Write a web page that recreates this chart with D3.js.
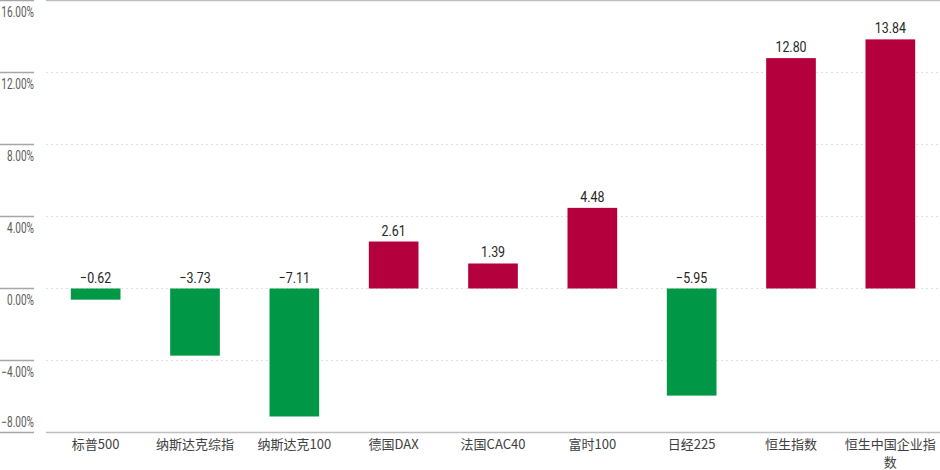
<!DOCTYPE html>
<html>
<head>
<meta charset="utf-8">
<style>
    body { margin: 0; background: #fff; }
    svg { display: block; }
</style>
</head>
<body>
<div id="chart"></div>
<script src="https://d3js.org/d3.v7.min.js"></script>
<script>
    const categories = ["标普500", "纳斯达克综指", "纳斯达克100", "德国DAX", "法国CAC40", "富时100", "日经225", "恒生指数", "恒生中国企业指数"];
    const values = [-0.62, -3.73, -7.11, 2.61, 1.39, 4.48, -5.95, 12.80, 13.84];
    const yTicks = [16, 12, 8, 4, 0, -4, -8];

    const width = 940, height = 470;
    const left = 46, right = 940;
    const numFont = "Roboto, 'Liberation Sans', sans-serif";
    const cjkFont = "'Noto Sans CJK SC', sans-serif";

    const svg = d3.select("#chart").append("svg")
        .attr("width", width)
        .attr("height", height);

    const x = d3.scaleBand()
        .domain(categories)
        .range([left, right])
        .paddingInner(0.5)
        .paddingOuter(0.25);

    const y = d3.scaleLinear()
        .domain([-8, 16])
        .range([432.5, 0.5]);

    // gridlines
    svg.append("g")
        .selectAll("line")
        .data(yTicks)
        .join("line")
        .attr("x1", left)
        .attr("x2", right)
        .attr("y1", d => y(d))
        .attr("y2", d => y(d))
        .attr("stroke", d => (d === 16 || d === -8) ? "#bfbfbf" : "#e0e0e0")
        .attr("stroke-width", d => (d === 16 || d === -8) ? 1.5 : 1)
        .attr("stroke-dasharray", d => (d === 16 || d === -8) ? null : "2,3");

    // left tick marks and labels
    const yAxis = svg.append("g");
    yAxis.selectAll("line")
        .data(yTicks)
        .join("line")
        .attr("x1", 0)
        .attr("x2", 34)
        .attr("y1", d => y(d))
        .attr("y2", d => y(d))
        .attr("stroke", "#a6a6a6")
        .attr("stroke-width", 1.5);

    // narrow look: squeeze the text horizontally
    yAxis.selectAll("text")
        .data(yTicks)
        .join("text")
        .attr("transform", d => `translate(34,${d === -8 ? y(d) - 10 : y(d) + 12}) scale(0.72,1)`)
        .attr("dy", "0.35em")
        .attr("text-anchor", "end")
        .attr("font-family", numFont)
        .attr("font-size", 14)
        .attr("fill", "#595959")
        .text(d => d3.format(".2f")(d) + "%");

    // bars
    svg.append("g")
        .selectAll("rect")
        .data(values)
        .join("rect")
        .attr("x", (d, i) => x(categories[i]))
        .attr("width", x.bandwidth())
        .attr("y", d => y(Math.max(0, d)))
        .attr("height", d => Math.abs(y(d) - y(0)))
        .attr("fill", d => d < 0 ? "#009846" : "#b4003c");

    // value labels
    svg.append("g")
        .selectAll("text")
        .data(values)
        .join("text")
        .attr("transform", (d, i) =>
            `translate(${x(categories[i]) + x.bandwidth() / 2},${y(Math.max(0, d)) - 6}) scale(0.8,1)`)
        .attr("text-anchor", "middle")
        .attr("font-family", numFont)
        .attr("font-size", 15.5)
        .attr("fill", "#262626")
        .text(d => d3.format(".2f")(d).replace("-", "\u2212"));

    // category labels, wrapped when wider than the band
    const maxChars = 7;
    const catLines = [];
    categories.forEach(c => {
        for (let i = 0, k = 0; i < c.length; i += maxChars, k++) {
            catLines.push({ cat: c, line: k, text: c.slice(i, i + maxChars) });
        }
    });

    svg.append("g")
        .selectAll("text")
        .data(catLines)
        .join("text")
        .attr("x", d => x(d.cat) + x.bandwidth() / 2)
        .attr("y", d => 449 + d.line * 18)
        .attr("text-anchor", "middle")
        .attr("font-family", cjkFont)
        .attr("font-size", 13)
        .attr("fill", "#404040")
        .text(d => d.text);
</script>
</body>
</html>
